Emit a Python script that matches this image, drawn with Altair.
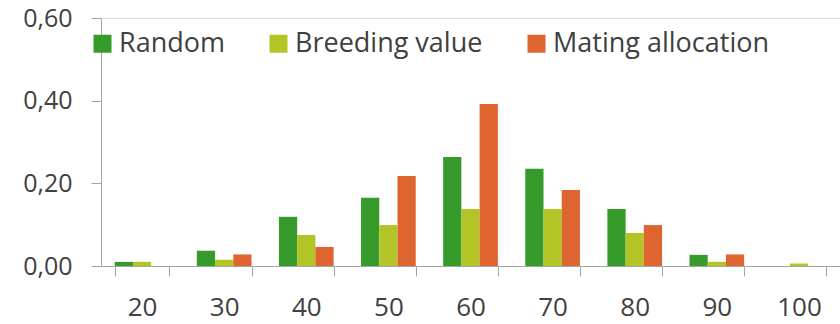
import altair as alt
import pandas as pd

categories = ["20", "30", "40", "50", "60", "70", "80", "90", "100"]
series = ["Random", "Breeding value", "Mating allocation"]
random_vals = [0.01, 0.037, 0.119, 0.165, 0.264, 0.235, 0.138, 0.027, 0.0]
breeding_vals = [0.01, 0.015, 0.075, 0.099, 0.138, 0.138, 0.080, 0.010, 0.006]
mating_vals = [0.0, 0.028, 0.046, 0.218, 0.392, 0.184, 0.099, 0.028, 0.0]
colors = ["#379b2b", "#b3c427", "#de6530"]
y_ticks = [0.0, 0.2, 0.4, 0.6]

rows = []
for s, vals in zip(series, [random_vals, breeding_vals, mating_vals]):
    for c, v in zip(categories, vals):
        rows.append({"cat": c, "series": s, "value": v})
df = pd.DataFrame(rows)

FONT = "Open Sans"
TXT = "#404040"
LINE = "#a6a6a6"

chart = alt.Chart(df).mark_bar().encode(
    x=alt.X("cat:N", sort=categories, title=None,
            scale=alt.Scale(paddingInner=0.334, paddingOuter=0.167),
            axis=alt.Axis(labelAngle=0, tickBand="extent", tickSize=10,
                          tickColor=LINE, domainColor=LINE, labelPadding=18,
                          labelFontSize=26, labelFont=FONT, labelColor=TXT,
                          grid=False)),
    xOffset=alt.XOffset("series:N", sort=series,
                        scale=alt.Scale(paddingInner=0, paddingOuter=0)),
    y=alt.Y("value:Q", title=None,
            scale=alt.Scale(domain=[0, 0.6], nice=False),
            axis=alt.Axis(values=y_ticks, tickSize=10, tickColor=LINE,
                          domainColor=LINE, labelPadding=19, grid=False,
                          labelFontSize=25, labelFont=FONT, labelColor=TXT,
                          labelExpr="replace(format(datum.value, '.2f'), '.', ',')")),
    color=alt.Color("series:N", sort=series,
                    scale=alt.Scale(domain=series, range=colors),
                    legend=alt.Legend(title=None, orient="none", legendX=-12,
                                      legendY=12, direction="horizontal",
                                      symbolType="square", symbolSize=324,
                                      symbolStrokeWidth=0, labelFontSize=27,
                                      labelFont=FONT, labelColor=TXT,
                                      labelOffset=3, columnPadding=40,
                                      labelLimit=400)),
).properties(
    width=739, height=248,
    padding={"left": 101, "top": 18, "right": 0, "bottom": 58},
    autosize=alt.AutoSizeParams(type="none"),
).configure_view(stroke=None).configure(background="white")

chart.save("out.html", embed_options={"renderer": "svg", "actions": False})
